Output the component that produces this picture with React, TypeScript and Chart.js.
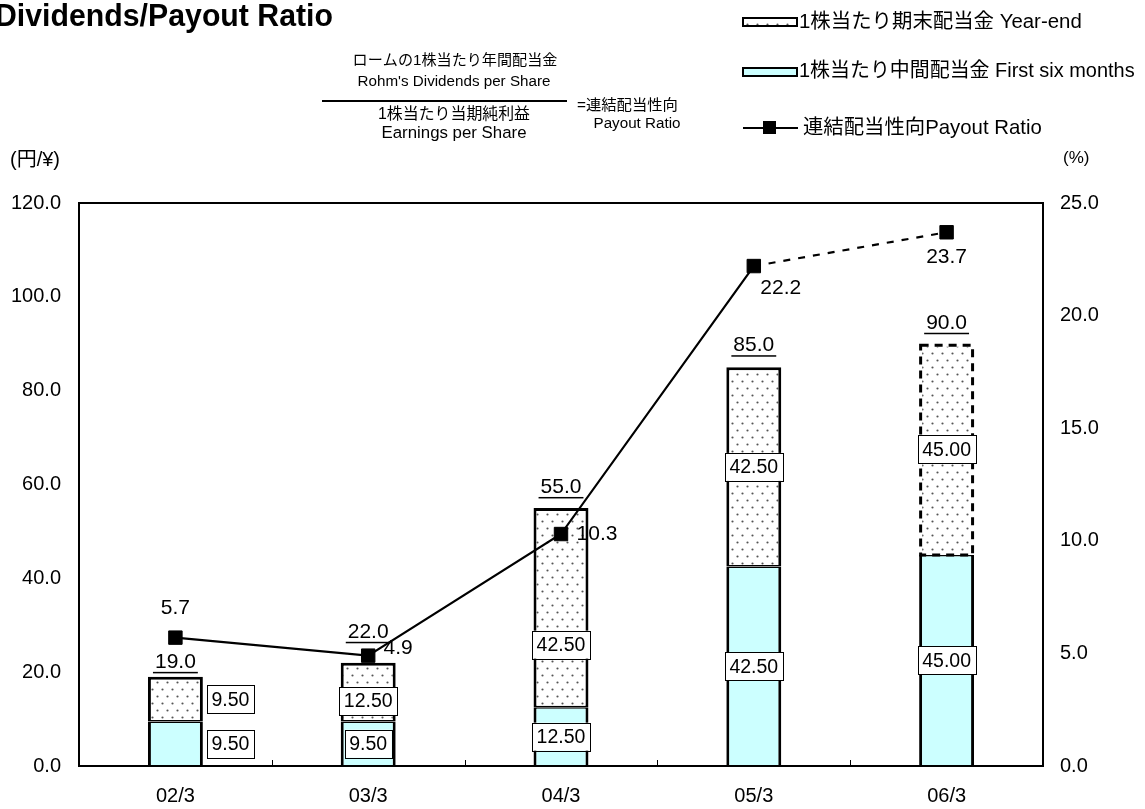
import React, { useEffect, useRef } from "react";
import { Chart, registerables } from "chart.js";

Chart.register(...registerables);

const categories = ["02/3", "03/3", "04/3", "05/3", "06/3"];
const firstHalf = [9.5, 9.5, 12.5, 42.5, 45.0];
const yearEnd = [9.5, 12.5, 42.5, 42.5, 45.0];
const totals = [19.0, 22.0, 55.0, 85.0, 90.0];
const payout = [5.7, 4.9, 10.3, 22.2, 23.7];

const FF = '"Liberation Sans", "Noto Sans CJK JP", sans-serif';
const CYAN = "#ccffff";

// label placement tweaks (pixels relative to the computed anchor)
const yearEndLabelDx = [55, 0, 0, 0, 0];
const yearEndLabelDy = [0, 9, 37, 0, 0];
const firstLabelDx = [55, 0, 0, 0, 0];
const totalLabelDy = [-15, -31, -21, -22, -21];
const payoutLabelDx = [0, 30, 36, 27, 0];
const payoutLabelDy = [-29, -7, 0, 22, 25];

function makePattern(ctx: CanvasRenderingContext2D): CanvasPattern | string {
  const t = document.createElement("canvas");
  t.width = 10;
  t.height = 14;
  const c = t.getContext("2d")!;
  c.fillStyle = "#ffffff";
  c.fillRect(0, 0, 10, 14);
  c.fillStyle = "#555555";
  c.beginPath();
  c.arc(2.5, 3.5, 1.1, 0, Math.PI * 2);
  c.arc(7.5, 10.5, 1.1, 0, Math.PI * 2);
  c.fill();
  return ctx.createPattern(t, "repeat") || "#fff";
}

// draw text whose font size is chosen so that its width matches target width
function fitText(
  ctx: CanvasRenderingContext2D,
  text: string,
  x: number,
  y: number,
  width: number,
  align: CanvasTextAlign,
  weight = ""
) {
  ctx.font = `${weight} 20px ${FF}`;
  const w = ctx.measureText(text).width;
  const size = (20 * width) / w;
  ctx.font = `${weight} ${size.toFixed(2)}px ${FF}`;
  ctx.textAlign = align;
  ctx.fillText(text, x, y);
}

function drawBoxLabel(ctx: CanvasRenderingContext2D, text: string, x: number, y: number) {
  ctx.font = `19.5px ${FF}`;
  const w = ctx.measureText(text).width + 9;
  const h = 28;
  ctx.fillStyle = "#fff";
  ctx.fillRect(x - w / 2, y - h / 2, w, h);
  ctx.strokeStyle = "#000";
  ctx.lineWidth = 1;
  ctx.strokeRect(Math.round(x - w / 2) + 0.5, Math.round(y - h / 2) + 0.5, Math.round(w), h);
  ctx.fillStyle = "#000";
  ctx.textAlign = "center";
  ctx.textBaseline = "middle";
  ctx.fillText(text, x, y + 1);
}

const annotPlugin = {
  id: "annot",
  beforeDraw(chart: any) {
    const ctx = chart.ctx;
    ctx.save();
    ctx.fillStyle = "#fff";
    ctx.fillRect(0, 0, chart.width, chart.height);
    ctx.restore();
  },
  afterDatasetsDraw(chart: any) {
    const ctx: CanvasRenderingContext2D = chart.ctx;
    const ca = chart.chartArea;
    ctx.save();
    // dashed border for forecast year-end bar
    const yeMeta = chart.getDatasetMeta(1);
    const el = yeMeta.data[4];
    if (el) {
      const p = el.getProps(["x", "y", "base", "width"], true);
      ctx.setLineDash([8, 6]);
      ctx.lineWidth = 3;
      ctx.strokeStyle = "#000";
      ctx.strokeRect(p.x - p.width / 2 + 1.5, p.y + 1.5, p.width - 3, p.base - p.y - 1.5);
      ctx.setLineDash([]);
    }
    // segment labels
    const fMeta = chart.getDatasetMeta(0);
    fMeta.data.forEach((e: any, i: number) => {
      const p = e.getProps(["x", "y", "base"], true);
      drawBoxLabel(ctx, firstHalf[i].toFixed(2), p.x + firstLabelDx[i], (p.y + p.base) / 2);
    });
    yeMeta.data.forEach((e: any, i: number) => {
      const p = e.getProps(["x", "y", "base"], true);
      drawBoxLabel(ctx, yearEnd[i].toFixed(2), p.x + yearEndLabelDx[i], (p.y + p.base) / 2 + yearEndLabelDy[i]);
      // total label, underlined
      const t = totals[i].toFixed(1);
      ctx.font = `21px ${FF}`;
      ctx.fillStyle = "#000";
      ctx.textAlign = "center";
      ctx.textBaseline = "middle";
      const ty = p.y + totalLabelDy[i];
      ctx.fillText(t, p.x, ty);
      const tw = ctx.measureText(t).width;
      ctx.fillRect(p.x - tw / 2 - 2, ty + 10, tw + 4, 1.5);
    });
    // payout labels
    const lMeta = chart.getDatasetMeta(2);
    lMeta.data.forEach((e: any, i: number) => {
      const p = e.getProps(["x", "y"], true);
      ctx.font = `21px ${FF}`;
      ctx.fillStyle = "#000";
      ctx.textAlign = "center";
      ctx.textBaseline = "middle";
      ctx.fillText(payout[i].toFixed(1), p.x + payoutLabelDx[i], p.y + payoutLabelDy[i]);
    });
    // frame
    ctx.strokeStyle = "#000";
    ctx.lineWidth = 2;
    ctx.strokeRect(ca.left, ca.top, ca.right - ca.left, ca.bottom - ca.top);
    // small category separator ticks
    const xs = chart.scales.x;
    ctx.lineWidth = 1;
    for (let i = 1; i < categories.length; i++) {
      const bx = Math.round((xs.getPixelForValue(i - 1) + xs.getPixelForValue(i)) / 2) + 0.5;
      ctx.beginPath();
      ctx.moveTo(bx, ca.bottom);
      ctx.lineTo(bx, ca.bottom - 6);
      ctx.stroke();
    }
    ctx.restore();
  },
  afterDraw(chart: any) {
    const ctx: CanvasRenderingContext2D = chart.ctx;
    ctx.save();
    ctx.fillStyle = "#000";
    ctx.textBaseline = "middle";
    // title
    ctx.font = `bold 32px ${FF}`;
    ctx.textAlign = "left";
    ctx.fillText("Dividends/Payout Ratio", -5, 17, 338);
    // formula
    fitText(ctx, "ロームの1株当たり年間配当金", 455, 61, 205, "center");
    fitText(ctx, "Rohm's Dividends per Share", 454, 82, 193, "center");
    ctx.fillRect(322, 100, 245, 2);
    fitText(ctx, "1株当たり当期純利益", 454, 115, 152, "center");
    fitText(ctx, "Earnings per Share", 454, 133, 145, "center");
    fitText(ctx, "=連結配当性向", 577, 106, 101, "left");
    fitText(ctx, "Payout Ratio", 637, 124, 87, "center");
    // axis units
    fitText(ctx, "(円/¥)", 10, 160, 50, "left");
    ctx.font = `17px ${FF}`;
    ctx.textAlign = "left";
    ctx.fillText("(%)", 1063, 158);
    // legend
    const pat = makePattern(ctx);
    ctx.fillStyle = pat as any;
    ctx.fillRect(743, 18, 54, 8);
    ctx.strokeStyle = "#000";
    ctx.lineWidth = 2;
    ctx.strokeRect(743, 18, 54, 8);
    ctx.fillStyle = CYAN;
    ctx.fillRect(743, 68, 54, 8);
    ctx.strokeRect(743, 68, 54, 8);
    ctx.beginPath();
    ctx.moveTo(743, 128);
    ctx.lineTo(798, 128);
    ctx.stroke();
    ctx.fillStyle = "#000";
    ctx.fillRect(763, 121, 13, 13);
    fitText(ctx, "1株当たり期末配当金 Year-end", 799, 22, 283, "left");
    fitText(ctx, "1株当たり中間配当金 First six months", 799, 72, 336, "left");
    fitText(ctx, "連結配当性向Payout Ratio", 803, 128, 239, "left");
    ctx.restore();
  },
};

export default function App() {
  const ref = useRef<HTMLCanvasElement>(null);
  useEffect(() => {
    const canvas = ref.current!;
    const ctx = canvas.getContext("2d")!;
    const pattern = makePattern(ctx);
    const tickFont = { size: 20, family: FF };
    const chart = new Chart(canvas, {
      type: "bar",
      data: {
        labels: categories,
        datasets: [
          {
            type: "bar",
            label: "1株当たり中間配当金 First six months",
            data: firstHalf,
            backgroundColor: CYAN,
            borderColor: "#000",
            borderWidth: { left: 3, right: 3, top: 1.5, bottom: 0 } as any,
            borderSkipped: false,
            yAxisID: "y",
            stack: "s",
            order: 1,
            barPercentage: 0.285,
            categoryPercentage: 1,
          },
          {
            type: "bar",
            label: "1株当たり期末配当金 Year-end",
            data: yearEnd,
            backgroundColor: pattern as any,
            borderColor: (c: any) => (c.dataIndex === 4 ? "rgba(0,0,0,0)" : "#000"),
            borderWidth: { left: 3, right: 3, top: 3, bottom: 1.5 } as any,
            borderSkipped: false,
            yAxisID: "y",
            stack: "s",
            order: 2,
            barPercentage: 0.285,
            categoryPercentage: 1,
          },
          {
            type: "line",
            label: "連結配当性向Payout Ratio",
            data: payout,
            yAxisID: "y1",
            borderColor: "#000",
            borderWidth: 2.2,
            pointStyle: "rect",
            pointRadius: 9.5,
            pointBackgroundColor: "#000",
            pointBorderColor: "#000",
            pointBorderWidth: 1,
            order: 0,
            segment: {
              borderDash: (c: any) => (c.p1DataIndex === 4 ? [7, 8] : undefined),
            },
          } as any,
        ],
      },
      options: {
        responsive: false,
        animation: false,
        devicePixelRatio: 1,
        layout: { padding: { top: 203, left: 0, right: 0, bottom: 0 } },
        plugins: { legend: { display: false }, tooltip: { enabled: false } },
        scales: {
          x: {
            stacked: true,
            grid: { display: false, drawTicks: false },
            border: { display: false },
            ticks: { color: "#000", font: tickFont, padding: 18 },
            afterFit: (s: any) => {
              s.height = 43;
            },
          },
          y: {
            stacked: true,
            position: "left",
            min: 0,
            max: 120,
            grid: { display: false, drawTicks: false },
            border: { display: false },
            ticks: {
              stepSize: 20,
              color: "#000",
              font: tickFont,
              padding: 18,
              callback: (v: any) => Number(v).toFixed(1),
            },
            afterFit: (s: any) => {
              s.width = 79;
            },
          },
          y1: {
            position: "right",
            min: 0,
            max: 25,
            grid: { display: false, drawTicks: false },
            border: { display: false },
            ticks: {
              stepSize: 5,
              color: "#000",
              font: tickFont,
              padding: 17,
              callback: (v: any) => Number(v).toFixed(1),
            },
            afterFit: (s: any) => {
              s.width = 102;
            },
          },
        },
      },
      plugins: [annotPlugin],
    } as any);
    return () => chart.destroy();
  }, []);
  return (
    <div style={{ position: "absolute", left: 0, top: 0, width: 1145, height: 809 }}>
      <canvas ref={ref} width={1145} height={809} style={{ display: "block" }} />
    </div>
  );
}
